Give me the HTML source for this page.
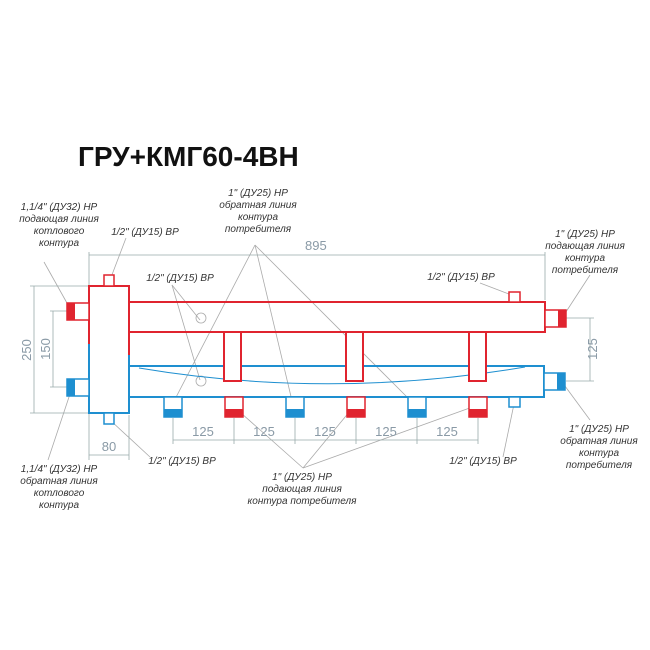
<!DOCTYPE html>
<html><head><meta charset="utf-8"><style>
html,body{margin:0;padding:0;background:#fff}
svg{display:block}
text{font-family:"Liberation Sans",sans-serif}
.l{font-style:italic;font-size:10px;fill:#333}
.d{font-size:13px;fill:#8a9aa6}
</style></head><body>
<svg width="650" height="650" viewBox="0 0 650 650" xmlns="http://www.w3.org/2000/svg">
<text x="78" y="166" font-size="28" font-weight="bold" fill="#111" style="font-family:'Liberation Sans',sans-serif">ГРУ+КМГ60-4ВН</text>

<g stroke="#aaa" stroke-width="0.8" fill="none">
<line x1="44" y1="262" x2="72" y2="312"/>
<line x1="126" y1="238" x2="110" y2="280"/>
<line x1="255" y1="245" x2="172" y2="405"/>
<line x1="255" y1="245" x2="293" y2="405"/>
<line x1="255" y1="245" x2="415" y2="405"/>
<line x1="172" y1="285" x2="200" y2="320"/>
<line x1="172" y1="285" x2="200" y2="380"/>
<line x1="480" y1="283" x2="514" y2="296"/>
<line x1="590" y1="275" x2="562" y2="318"/>
<line x1="72" y1="388" x2="48" y2="460"/>
<line x1="110" y1="420" x2="150" y2="457"/>
<line x1="303" y1="468" x2="232" y2="405"/>
<line x1="303" y1="468" x2="355" y2="405"/>
<line x1="303" y1="468" x2="478" y2="405"/>
<line x1="514" y1="404" x2="503" y2="457"/>
<line x1="562" y1="382" x2="590" y2="420"/>
</g>
<circle cx="201" cy="318" r="5" fill="none" stroke="#aaa" stroke-width="0.8"/>
<circle cx="201" cy="381" r="5" fill="none" stroke="#aaa" stroke-width="0.8"/>

<g stroke="#9aa" stroke-width="0.8" fill="none">
<line x1="89" y1="255" x2="545" y2="255"/>
<line x1="89" y1="252" x2="89" y2="460"/>
<line x1="545" y1="252" x2="545" y2="300"/>
<line x1="34" y1="286" x2="34" y2="413"/>
<line x1="30" y1="286" x2="89" y2="286"/>
<line x1="30" y1="413" x2="89" y2="413"/>
<line x1="53" y1="311" x2="53" y2="387"/>
<line x1="50" y1="311" x2="67" y2="311"/>
<line x1="50" y1="387" x2="67" y2="387"/>
<line x1="590" y1="318" x2="590" y2="381"/>
<line x1="566" y1="318" x2="594" y2="318"/>
<line x1="566" y1="381" x2="594" y2="381"/>
<line x1="89" y1="455" x2="129" y2="455"/>
<line x1="129" y1="415" x2="129" y2="460"/>
<line x1="173" y1="440" x2="478" y2="440"/>
<line x1="173" y1="418" x2="173" y2="444"/>
<line x1="234" y1="418" x2="234" y2="444"/>
<line x1="295" y1="418" x2="295" y2="444"/>
<line x1="356" y1="418" x2="356" y2="444"/>
<line x1="417" y1="418" x2="417" y2="444"/>
<line x1="478" y1="418" x2="478" y2="444"/>
</g>
<text class="d" x="305" y="250">895</text>
<text class="d" x="39" y="350" transform="rotate(-90 39 350)" text-anchor="middle" dy="-8">250</text>
<text class="d" x="58" y="349" transform="rotate(-90 58 349)" text-anchor="middle" dy="-8">150</text>
<text class="d" x="605" y="349" transform="rotate(-90 605 349)" text-anchor="middle" dy="-8" >125</text>
<text class="d" x="109" y="451" text-anchor="middle">80</text>
<g class="d" text-anchor="middle">
<text x="203" y="436">125</text><text x="264" y="436">125</text><text x="325" y="436">125</text><text x="386" y="436">125</text><text x="447" y="436">125</text>
</g>

<rect x="129" y="302" width="416" height="30" fill="none" stroke="#e0242f" stroke-width="2"/>
<rect x="129" y="366" width="415" height="31" fill="none" stroke="#1e8fd0" stroke-width="2"/>
<path d="M139 368 Q 330 400 525 367" fill="none" stroke="#1e8fd0" stroke-width="1"/>
<g fill="#fff" stroke="#e0242f" stroke-width="2">
<rect x="224" y="332" width="17" height="49"/>
<rect x="346" y="332" width="17" height="49"/>
<rect x="469" y="332" width="17" height="49"/>
</g>
<rect x="89" y="286" width="40" height="127" fill="#fff" stroke="#1e8fd0" stroke-width="2"/>
<path d="M89 344 V286 H129 V355" fill="none" stroke="#e0242f" stroke-width="2"/>
<rect x="104" y="275" width="10" height="11" fill="#fff" stroke="#e0242f" stroke-width="1.5"/>
<rect x="104" y="413" width="10" height="11" fill="#fff" stroke="#1e8fd0" stroke-width="1.5"/>
<rect x="67" y="303" width="22" height="17" fill="#fff" stroke="#e0242f" stroke-width="1.5"/>
<rect x="67" y="303" width="8" height="17" fill="#e0242f"/>
<rect x="67" y="379" width="22" height="17" fill="#fff" stroke="#1e8fd0" stroke-width="1.5"/>
<rect x="67" y="379" width="8" height="17" fill="#1e8fd0"/>
<rect x="545" y="310" width="21" height="17" fill="#fff" stroke="#e0242f" stroke-width="1.5"/>
<rect x="558" y="310" width="8" height="17" fill="#e0242f"/>
<rect x="544" y="373" width="21" height="17" fill="#fff" stroke="#1e8fd0" stroke-width="1.5"/>
<rect x="557" y="373" width="8" height="17" fill="#1e8fd0"/>
<rect x="509" y="292" width="11" height="10" fill="#fff" stroke="#e0242f" stroke-width="1.5"/>
<rect x="509" y="397" width="11" height="10" fill="#fff" stroke="#1e8fd0" stroke-width="1.5"/>
<g stroke-width="1.5">
<rect x="164" y="397" width="18" height="20" fill="#fff" stroke="#1e8fd0"/><rect x="164" y="409" width="18" height="8" fill="#1e8fd0"/>
<rect x="225" y="397" width="18" height="20" fill="#fff" stroke="#e0242f"/><rect x="225" y="409" width="18" height="8" fill="#e0242f"/>
<rect x="286" y="397" width="18" height="20" fill="#fff" stroke="#1e8fd0"/><rect x="286" y="409" width="18" height="8" fill="#1e8fd0"/>
<rect x="347" y="397" width="18" height="20" fill="#fff" stroke="#e0242f"/><rect x="347" y="409" width="18" height="8" fill="#e0242f"/>
<rect x="408" y="397" width="18" height="20" fill="#fff" stroke="#1e8fd0"/><rect x="408" y="409" width="18" height="8" fill="#1e8fd0"/>
<rect x="469" y="397" width="18" height="20" fill="#fff" stroke="#e0242f"/><rect x="469" y="409" width="18" height="8" fill="#e0242f"/>
</g>

<g class="l" text-anchor="middle">
<text x="59" y="210">1,1/4" (ДУ32) НР</text>
<text x="59" y="222">подающая линия</text>
<text x="59" y="234">котлового</text>
<text x="59" y="246">контура</text>
<text x="145" y="235">1/2" (ДУ15) ВР</text>
<text x="258" y="196">1" (ДУ25) НР</text>
<text x="258" y="208">обратная линия</text>
<text x="258" y="220">контура</text>
<text x="258" y="232">потребителя</text>
<text x="180" y="281">1/2" (ДУ15) ВР</text>
<text x="461" y="280">1/2" (ДУ15) ВР</text>
<text x="585" y="237">1" (ДУ25) НР</text>
<text x="585" y="249">подающая линия</text>
<text x="585" y="261">контура</text>
<text x="585" y="273">потребителя</text>
<text x="59" y="472">1,1/4" (ДУ32) НР</text>
<text x="59" y="484">обратная линия</text>
<text x="59" y="496">котлового</text>
<text x="59" y="508">контура</text>
<text x="182" y="464">1/2" (ДУ15) ВР</text>
<text x="302" y="480">1" (ДУ25) НР</text>
<text x="302" y="492">подающая линия</text>
<text x="302" y="504">контура потребителя</text>
<text x="483" y="464">1/2" (ДУ15) ВР</text>
<text x="599" y="432">1" (ДУ25) НР</text>
<text x="599" y="444">обратная линия</text>
<text x="599" y="456">контура</text>
<text x="599" y="468">потребителя</text>
</g>
</svg>
</body></html>
